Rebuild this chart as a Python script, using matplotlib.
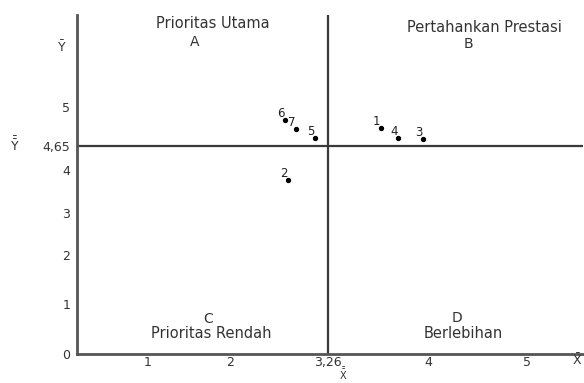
import numpy as np
import matplotlib
matplotlib.use("Agg")
import matplotlib.pyplot as plt

# ---- data ----
point_ids = ["1", "2", "3", "4", "5", "6", "7"]
x_vals = [3.65, 2.75, 3.96, 3.78, 3.09, 2.71, 2.85]
y_vals = [4.81, 3.77, 4.71, 4.72, 4.72, 4.88, 4.80]
x_mean = 3.26
y_mean = 4.65
x_ticks = [1, 2, 3.26, 4, 5]
x_tick_labels = ["1", "2", "3,26", "4", "5"]
y_ticks = [0, 1, 2, 3, 4, 4.65, 5]
y_tick_labels = ["0", "1", "2", "3", "4", "4,65", "5"]
quadrant_titles = ["Prioritas Utama", "Pertahankan Prestasi", "Prioritas Rendah", "Berlebihan"]
quadrant_letters = ["A", "B", "C", "D"]

# piecewise-linear axis scales (the source diagram is hand-spaced)
xk = np.array([-1, 0, 1, 2, 3.26, 4, 5, 7], dtype=float)
xp = np.array([-16, 66, 148, 230, 328, 428, 527, 727], dtype=float)
yk = np.array([-1, 0, 1, 2, 3, 4, 4.65, 5, 7], dtype=float)
yp = np.array([-50, 0, 50, 99, 141, 184, 208, 247, 469], dtype=float)

fx_fwd = lambda v: np.interp(v, xk, xp)
fx_inv = lambda p: np.interp(p, xp, xk)
fy_fwd = lambda v: np.interp(v, yk, yp)
fy_inv = lambda p: np.interp(p, yp, yk)

W, H = 584, 383
fig = plt.figure(figsize=(W / 100, H / 100), dpi=100)
L, R, B, T = 77, 583, 354, 15
ax = fig.add_axes([L / W, (H - B) / H, (R - L) / W, (B - T) / H])

ax.set_xscale("function", functions=(fx_fwd, fx_inv))
ax.set_yscale("function", functions=(fy_fwd, fy_inv))
ax.set_xlim(fx_inv(77), fx_inv(583))
ax.set_ylim(0, fy_inv(339))

txt = "#333333"
fam = ["DejaVu Sans"]

ax.axvline(x_mean, color="#3a3a3a", lw=1.6)
ax.axhline(y_mean, color="#3a3a3a", lw=1.6)

ax.scatter(x_vals, y_vals, s=8, color="black", zorder=3)
for pid, xv, yv in zip(point_ids, x_vals, y_vals):
    ax.annotate(pid, (xv, yv), xytext=(-3, 0), textcoords="offset points",
                ha="center", va="bottom", fontsize=8.5, color="#222222", family=fam)

ax.set_xticks(x_ticks)
ax.set_xticklabels(x_tick_labels)
ax.set_yticks(y_ticks)
ax.set_yticklabels(y_tick_labels)
ax.tick_params(length=0, labelsize=9, labelcolor=txt)
ax.tick_params(axis="x", pad=1.5)
ax.tick_params(axis="y", pad=5)
ax.xaxis.set_minor_locator(matplotlib.ticker.NullLocator())
ax.yaxis.set_minor_locator(matplotlib.ticker.NullLocator())

for s in ["top", "right"]:
    ax.spines[s].set_visible(False)
for s in ["left", "bottom"]:
    ax.spines[s].set_color("#555555")
    ax.spines[s].set_linewidth(2)


def fr(px, py):
    return (px - L) / (R - L), (B - py) / (B - T)


qpos = [(213, 23), (484, 27), (211, 333), (463, 333)]
lpos = [(195, 42), (468, 44), (208, 319), (457, 318)]
for t, (px, py) in zip(quadrant_titles, qpos):
    ax.text(*fr(px, py), t, transform=ax.transAxes, ha="center", va="center",
            fontsize=10.5, color=txt, family=fam)
for t, (px, py) in zip(quadrant_letters, lpos):
    ax.text(*fr(px, py), t, transform=ax.transAxes, ha="center", va="center",
            fontsize=10, color=txt, family=fam)

ax.text(*fr(62, 47), r"$\bar{\mathrm{Y}}$", transform=ax.transAxes, ha="center", va="center",
        fontsize=9, color=txt)
ax.text(*fr(15, 145), r"$\bar{\bar{\mathrm{Y}}}$", transform=ax.transAxes, ha="center", va="center",
        fontsize=9, color=txt)
ax.text(*fr(343, 382), r"$\bar{\bar{\mathrm{X}}}$", transform=ax.transAxes, ha="center", va="bottom",
        fontsize=7, color=txt)
ax.text(*fr(577, 360), r"$\bar{\mathrm{X}}$", transform=ax.transAxes, ha="center", va="center",
        fontsize=9, color=txt, clip_on=False)

fig.savefig("out.png", dpi=100)
